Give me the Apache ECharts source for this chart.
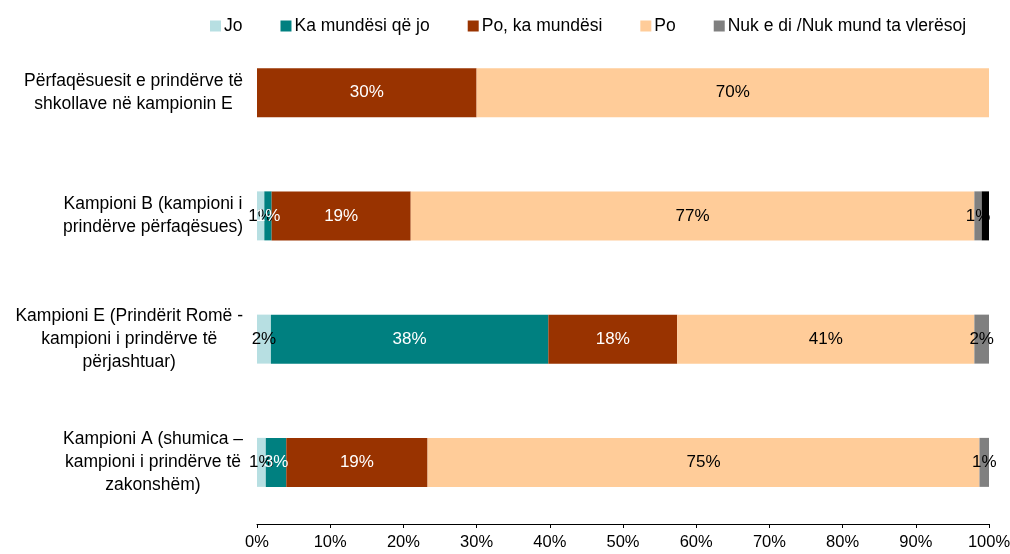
<!DOCTYPE html>
<html>
<head>
<meta charset="utf-8">
<script src="https://cdn.jsdelivr.net/npm/echarts@6/dist/echarts.min.js"></script>
<style>html,body{margin:0;padding:0;background:#fff;}#c{width:1010px;height:554px;}</style>
</head>
<body>
<div id="c"></div>
<script>
// Categories, top to bottom
const categories = [
  'Përfaqësuesit e prindërve të\nshkollave në kampionin E',
  'Kampioni B (kampioni i\nprindërve përfaqësues)',
  'Kampioni E (Prindërit Romë -\nkampioni i prindërve të\npërjashtuar)',
  'Kampioni A (shumica –\nkampioni i prindërve të\nzakonshëm)'
];
const seriesNames = ['Jo', 'Ka mundësi që jo', 'Po, ka mundësi', 'Po', 'Nuk e di /Nuk mund ta vlerësoj', 'Pa përgjigje'];
const jo       = [0, 1, 1.9, 1.2];
const kaMundesiQeJo = [0, 1, 37.9, 2.8];
const poKaMundesi   = [30, 19, 17.6, 19.3];
const po       = [70, 77, 40.6, 75.4];
const nukEDi   = [0, 1, 2.0, 1.3];
const paPergjigje = [0, 1, 0, 0];
const xTicks = [0,10,20,30,40,50,60,70,80,90,100];

const values = [jo, kaMundesiQeJo, poKaMundesi, po, nukEDi, paPergjigje];
const colors = ['#B7DFE2', '#008080', '#993300', '#FFCC99', '#808080', '#000000'];
const labelColors = ['#000', '#fff', '#fff', '#000', '#000', '#000'];
const showLabel = [true, true, true, true, true, false];

const chart = echarts.init(document.getElementById('c'));
chart.setOption({
  animation: false,
  textStyle: { fontFamily: 'Liberation Sans, Arial, sans-serif' },
  legend: {
    data: seriesNames.slice(0, 5),
    top: 12,
    left: 205,
    itemWidth: 11,
    itemHeight: 11,
    itemGap: 38,
    icon: 'rect',
    textStyle: { fontSize: 17.5, color: '#000', padding: [0, 0, 0, -2] }
  },
  grid: { left: 257, right: 21, top: 31, bottom: 30, outerBoundsMode: 'none', containLabel: false },
  xAxis: {
    type: 'value',
    min: 0, max: 100, interval: 10,
    axisLine: { show: true, lineStyle: { color: '#000', width: 1 } },
    axisTick: { show: true, length: 4, lineStyle: { color: '#000' } },
    splitLine: { show: false },
    axisLabel: { formatter: v => xTicks.includes(v) ? v + '%' : '', fontSize: 16.5, color: '#000', margin: 10 }
  },
  yAxis: {
    type: 'category',
    data: categories,
    inverse: true,
    axisLine: { show: false },
    axisTick: { show: false },
    axisLabel: {
      color: '#000', margin: 14, align: 'right',
      formatter: v => v.split('\n').map(l => '{c|' + l + '}').join('\n'),
      rich: { c: { fontSize: 17.5, lineHeight: 23, align: 'center', color: '#000' } }
    }
  },
  series: seriesNames.map((name, i) => ({
    name,
    type: 'bar',
    stack: 'total',
    barWidth: 49,
    itemStyle: { color: colors[i] },
    label: {
      show: showLabel[i],
      position: 'inside',
      color: labelColors[i],
      fontSize: 17,
      formatter: p => p.value > 0 ? Math.round(p.value) + '%' : ''
    },
    labelLayout: { hideOverlap: false },
    data: values[i].map(v => v > 0 ? v : null)
  }))
});
</script>
</body>
</html>
